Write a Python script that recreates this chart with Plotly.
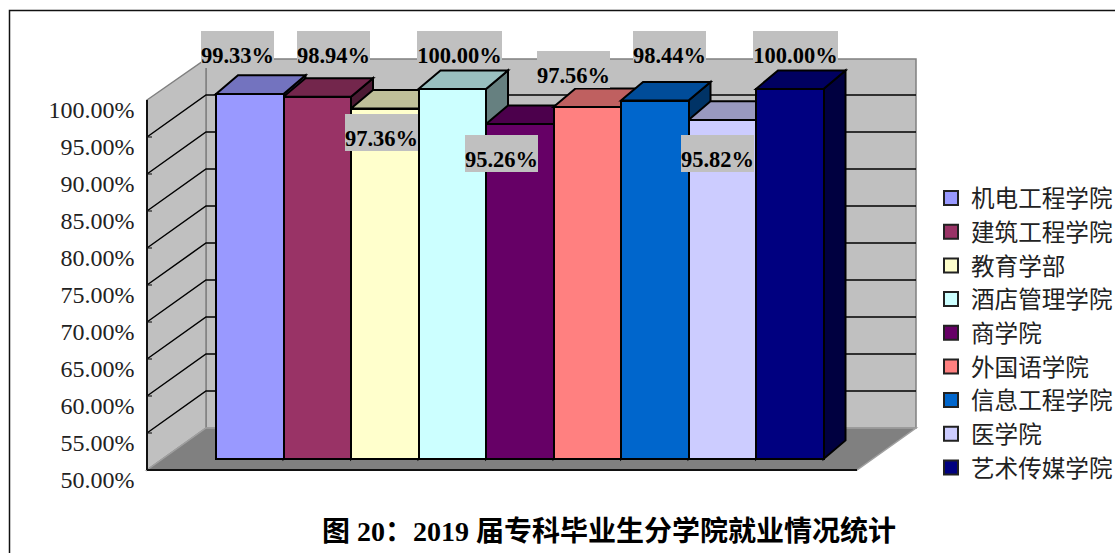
import plotly.graph_objects as go

# ---- data ----
colleges = ["机电工程学院", "建筑工程学院", "教育学部", "酒店管理学院", "商学院",
            "外国语学院", "信息工程学院", "医学院", "艺术传媒学院"]
rates = [99.33, 98.94, 97.36, 100.00, 95.26, 97.56, 98.44, 95.82, 100.00]
axis_ticks = [50, 55, 60, 65, 70, 75, 80, 85, 90, 95, 100]
title_text = "图 20：2019 届专科毕业生分学院就业情况统计"

# ---- styles ----
bar_colors = ["#9999FF", "#993366", "#FFFFCC", "#CCFFFF", "#660066",
              "#FF8080", "#0066CC", "#CCCCFF", "#000080"]
W, H = 1115, 553
SERIF = "Liberation Serif, Noto Sans CJK SC"
CJK = "Noto Sans CJK SC"
# label boxes: left, top, width (page pixels)
label_boxes = [(201, 31, 73), (297, 31, 73), (345, 114, 73), (417, 31, 85), (465, 135, 73),
               (537, 51, 73), (633, 31, 73), (681, 135, 73), (753, 31, 85)]


def xu(px):
    return (px - 216) / 67.5 - 0.5


def yu(py):
    return 50 + (459 - py) / 7.4


def shade(hex_color, k):
    c = [int(hex_color[i:i + 2], 16) for i in (1, 3, 5)]
    return "#%02X%02X%02X" % tuple(round(v * k) for v in c)


def poly(points, fill, line="#000000", width=1.5, close=True):
    d = "M" + " L".join(f"{x:.4f},{y:.4f}" for x, y in points) + (" Z" if close else "")
    s = dict(type="path", path=d, xref="x", yref="y", layer="below",
             line=dict(color=line, width=width))
    if fill:
        s["fillcolor"] = fill
    return s


shapes = []
GREY = "#808080"
WALL = "#C0C0C0"
# walls and floor
shapes.append(poly([(xu(206), yu(59)), (xu(916), yu(59)), (xu(916), yu(428)), (xu(206), yu(428))], WALL, GREY, 1.5))
shapes.append(poly([(xu(147), yu(100)), (xu(206), yu(59)), (xu(206), yu(428)), (xu(147), yu(470))], WALL, GREY, 1.5))
shapes.append(poly([(xu(147), yu(470)), (xu(857), yu(470)), (xu(916), yu(428)), (xu(206), yu(428))], GREY, "#A0A0A0", 1.5))
# gridlines every 5 points
for t in axis_ticks[1:-1]:
    k = (t - 50) * 7.4
    shapes.append(poly([(xu(147), yu(470 - k)), (xu(206), yu(428 - k)), (xu(916), yu(428 - k))], None, "#000000", 1.5, False))
    shapes.append(poly([(xu(147), yu(470 - k)), (xu(152), yu(470 - k))], None, "#000000", 1, False))
k = 50 * 7.4
shapes.append(poly([(xu(206), yu(428 - k)), (xu(216), yu(428 - k))], None, GREY, 1.2, False))
# front edges
shapes.append(poly([(xu(147), yu(100)), (xu(147), yu(470))], None, "#111111", 2, False))
shapes.append(poly([(xu(147), yu(470)), (xu(857), yu(470))], None, "#111111", 2, False))

# bar side and top faces, painted left to right
DEPTH_X = 22 / 67.5
DEPTH_Y = 18.6 / 7.4
for i, (v, c) in enumerate(zip(rates, bar_colors)):
    r = i + 0.5
    l = i - 0.5
    shapes.append(poly([(r, 50), (r + DEPTH_X, 50 + DEPTH_Y), (r + DEPTH_X, v + DEPTH_Y), (r, v)], shade(c, 0.5), width=2))
    shapes.append(poly([(l, v), (l + DEPTH_X, v + DEPTH_Y), (r + DEPTH_X, v + DEPTH_Y), (r, v)], shade(c, 0.75), width=2))

# chart frame
shapes.append(dict(type="rect", xref="paper", yref="paper", x0=9.5 / W, x1=1.05, y0=-0.05, y1=1 - 10.5 / H,
                   line=dict(color="#111111", width=1.5), layer="below"))

fig = go.Figure()
for i, (name, v, c) in enumerate(zip(colleges, rates, bar_colors)):
    fig.add_trace(go.Bar(x=[i], y=[v - 50], base=50, width=1, name=name, showlegend=False,
                         hovertemplate=f"{name}: {v:.2f}%<extra></extra>",
                         marker=dict(color=c, line=dict(color="#000000", width=2))))
for name, c in zip(colleges, bar_colors):
    fig.add_trace(go.Scatter(x=[None], y=[None], mode="markers", name=name,
                             marker=dict(symbol="square", size=14, color=c, line=dict(color="#222222", width=2))))
fig.add_trace(go.Scatter(x=[None], y=[None], yaxis="y2", showlegend=False, mode="markers"))

annotations = []
for v, (bx, by, bw) in zip(rates, label_boxes):
    txt = f"{v:.2f}%"
    annotations.append(dict(text=txt, xref="paper", yref="paper", x=bx / W, y=1 - by / H,
                            xanchor="left", yanchor="top", showarrow=False,
                            width=bw, height=37, valign="bottom", align="center",
                            borderpad=0, borderwidth=0, bgcolor="#C0C0C0",
                            font=dict(family=SERIF, size=22.5, color="#000000", weight=700)))

fig.update_layout(
    width=W, height=H, margin=dict(l=0, r=0, t=0, b=0, pad=0, autoexpand=False),
    paper_bgcolor="#FFFFFF", plot_bgcolor="#FFFFFF", barmode="overlay", bargap=0,
    shapes=shapes, annotations=annotations,
    title=dict(text=title_text, x=609 / W, y=1 - 531 / H, xref="paper", yref="paper",
               xanchor="center", yanchor="middle",
               font=dict(family=SERIF, size=28, color="#000000", weight=700)),
    xaxis=dict(range=[xu(0), xu(W)], visible=False, domain=[0, 1], fixedrange=True),
    yaxis=dict(range=[yu(H), yu(0)], visible=False, domain=[0, 1], fixedrange=True),
    yaxis2=dict(overlaying="y", anchor="free", position=134.5 / W, side="left",
                range=[50 + (480 - H) / 7.4, 50 + 480 / 7.4],
                tickmode="array", tickvals=axis_ticks, ticktext=[f"{t:.2f}%" for t in axis_ticks],
                showgrid=False, zeroline=False, showline=False, ticks="", fixedrange=True,
                tickfont=dict(family=SERIF, size=24, color="#222222")),
    legend=dict(x=931 / W, xanchor="left", y=1 - 193 / H + 16.8 / H, yanchor="top",
                bgcolor="rgba(0,0,0,0)", borderwidth=0, itemclick=False, itemdoubleclick=False,
                font=dict(family=CJK, size=23.6, color="#222222")),
    showlegend=True,
)
fig.write_html("out.html", config={"displayModeBar": False},
               post_script="document.body.style.margin='0';document.documentElement.style.overflow='hidden';")
